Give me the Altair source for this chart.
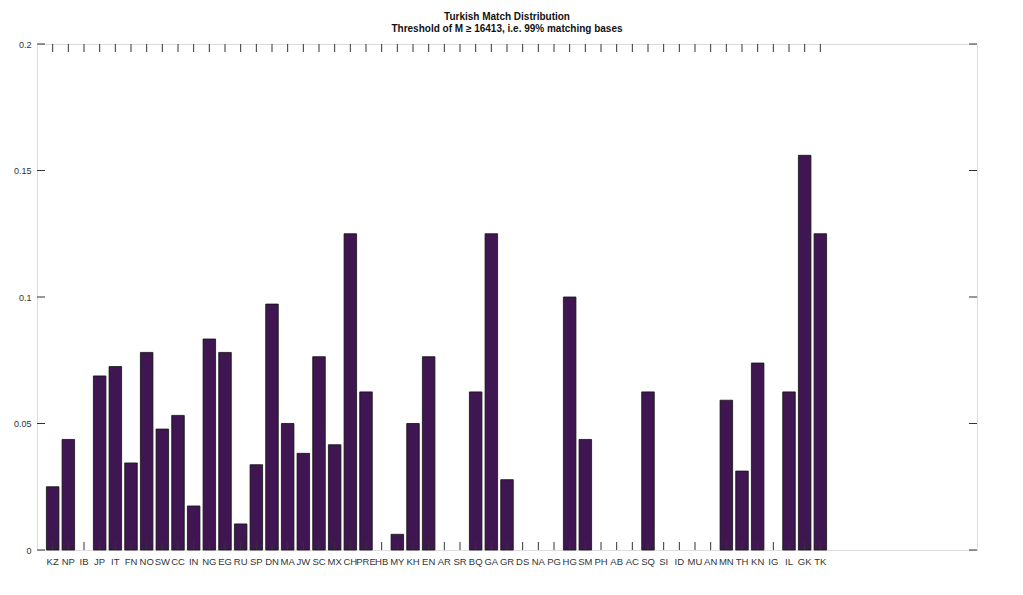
import altair as alt
import pandas as pd

labels = ["KZ", "NP", "IB", "JP", "IT", "FN", "NO", "SW", "CC", "IN",
          "NG", "EG", "RU", "SP", "DN", "MA", "JW", "SC", "MX", "CH",
          "PRE", "HB", "MY", "KH", "EN", "AR", "SR", "BQ", "GA", "GR",
          "DS", "NA", "PG", "HG", "SM", "PH", "AB", "AC", "SQ", "SI",
          "ID", "MU", "AN", "MN", "TH", "KN", "IG", "IL", "GK", "TK"]
values = [0.025, 0.0437, 0.0, 0.0688, 0.0725, 0.0344, 0.0781, 0.0478, 0.0532, 0.0174,
          0.0834, 0.0781, 0.0103, 0.0337, 0.0972, 0.05, 0.0382, 0.0764, 0.0416, 0.125,
          0.0625, 0.0, 0.0062, 0.05, 0.0764, 0.0, 0.0, 0.0625, 0.125, 0.0278,
          0.0, 0.0, 0.0, 0.1, 0.0437, 0.0, 0.0, 0.0, 0.0625, 0.0,
          0.0, 0.0, 0.0, 0.0592, 0.0312, 0.0739, 0.0, 0.0625, 0.156, 0.125]
y_ticks = [0, 0.05, 0.1, 0.15, 0.2]
title_lines = ["Turkish Match Distribution", "Threshold of M \u2265 16413, i.e. 99% matching bases"]

W, H = 940, 506
FONT = "Liberation Sans"

df = pd.DataFrame({"pos": list(range(1, len(labels) + 1)), "label": labels, "value": values})
df["x0"] = df["pos"] - 0.4
df["x1"] = df["pos"] + 0.4
ydf = pd.DataFrame({"y": y_ticks})

xscale = alt.Scale(domain=[0, 60], nice=False, zero=False)
yscale = alt.Scale(domain=[0, 0.2], nice=False)

bars = alt.Chart(df).transform_filter("datum.value > 0").mark_rect(
    color="#3f1651", stroke="#111111", strokeWidth=0.8
).encode(
    x=alt.X("x0:Q", scale=xscale, axis=None),
    x2="x1:Q",
    y=alt.Y("value:Q", scale=yscale, title=None,
            axis=alt.Axis(values=y_ticks, format="~g", ticks=False, domain=False, grid=False,
                          labelPadding=6, labelFont=FONT, labelFontSize=9, labelColor="#333333")),
    y2=alt.datum(0),
)

xlabels = alt.Chart(df).mark_text(font=FONT, fontSize=9.5, color="#333333", baseline="top", align="center").encode(
    x=alt.X("pos:Q", scale=xscale, axis=None), y=alt.value(H + 7), text="label:N")

tick_color = "#333333"
xt_bottom = alt.Chart(df).mark_rule(color=tick_color, strokeWidth=1).encode(
    x=alt.X("pos:Q", scale=xscale, axis=None), y=alt.value(H), y2=alt.value(H - 8))
xt_top = alt.Chart(df).mark_rule(color=tick_color, strokeWidth=1).encode(
    x=alt.X("pos:Q", scale=xscale, axis=None), y=alt.value(0), y2=alt.value(8))
yt_left = alt.Chart(ydf).mark_rule(color=tick_color, strokeWidth=1).encode(
    y=alt.Y("y:Q", scale=yscale, title=None), x=alt.value(0), x2=alt.value(8))
yt_right = alt.Chart(ydf).mark_rule(color=tick_color, strokeWidth=1).encode(
    y=alt.Y("y:Q", scale=yscale, title=None), x=alt.value(W - 8), x2=alt.value(W))

chart = alt.layer(bars, xlabels, xt_bottom, xt_top, yt_left, yt_right).properties(
    width=W, height=H,
    title=alt.TitleParams(title_lines, fontSize=10, fontWeight="bold", font=FONT, color="#111111",
                          anchor="middle", offset=6, lineHeight=12),
    autosize=alt.AutoSizeParams(type="none"),
    padding={"left": 29, "top": 36, "right": 10, "bottom": 40},
).configure_view(stroke="#7a7a7a", strokeWidth=1.2).configure(background="white")

chart.save("out.html", embed_options={"renderer": "svg", "actions": False})
